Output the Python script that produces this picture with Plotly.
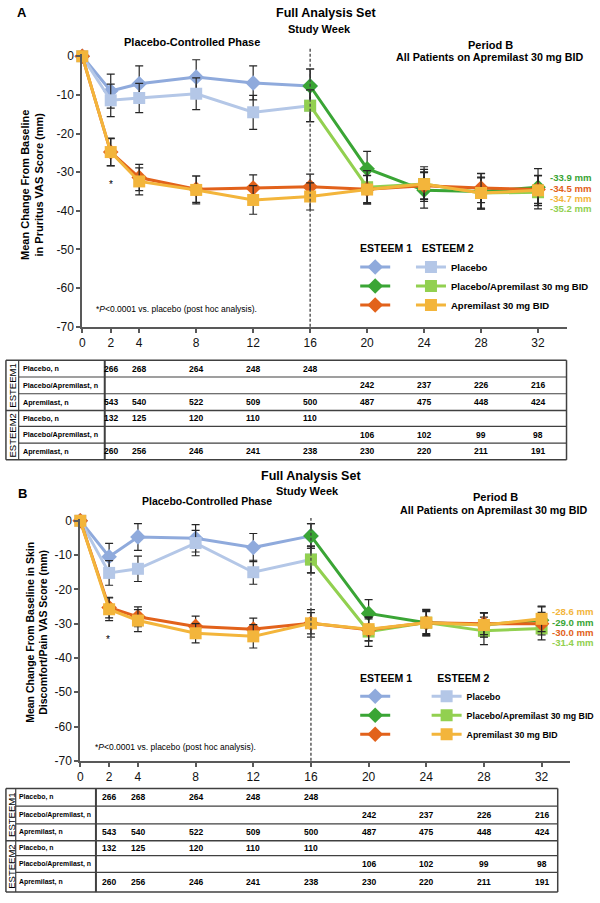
import plotly.graph_objects as go

# ---------------- data ----------------
WEEKS_PC = [0, 2, 4, 8, 12, 16]
WEEKS_B = [16, 20, 24, 28, 32]
WEEKS_ALL = [0, 2, 4, 8, 12, 16, 20, 24, 28, 32]
PHASE_SPLIT = 16
X_TICKS = [0, 2, 4, 8, 12, 16, 20, 24, 28, 32]
Y_TICKS = [0, -10, -20, -30, -40, -50, -60, -70]

# Panel A: Pruritus VAS
A_E1_PBO = [0, -9.0, -7.1, -5.4, -6.9, -7.7]
A_E1_PBO_ERR = [0, 4.4, 4.6, 4.5, 4.4, 4.4]
A_E2_PBO = [0, -11.4, -10.8, -9.7, -14.5, -12.8]
A_E2_PBO_ERR = [0, 4.2, 3.8, 4.1, 4.4, 4.1]
A_E1_PA = [-7.7, -29.1, -34.7, -35.0, -33.9]
A_E1_PA_ERR = [4.4, 4.5, 4.6, 4.6, 4.8]
A_E2_PA = [-12.8, -33.9, -33.1, -35.4, -35.2]
A_E2_PA_ERR = [4.1, 4.3, 4.5, 4.1, 4.3]
A_E1_APR = [0, -24.8, -31.4, -34.4, -34.1, -33.8, -34.4, -33.5, -34.1, -34.5]
A_E1_APR_ERR = [0, 3.5, 3.4, 3.4, 3.4, 3.3, 3.5, 3.6, 3.8, 3.6]
A_E2_APR = [0, -24.8, -32.4, -34.6, -37.2, -36.3, -34.5, -33.1, -35.4, -34.7]
A_E2_APR_ERR = [0, 3.6, 3.5, 3.6, 3.7, 3.5, 3.7, 3.8, 3.9, 3.9]
A_END_LABELS = ["-33.9 mm", "-34.5 mm", "-34.7 mm", "-35.2 mm"]

# Panel B: Skin Discomfort/Pain VAS
B_E1_PBO = [0, -10.5, -4.7, -5.1, -7.8, -4.4]
B_E1_PBO_ERR = [0, 3.9, 3.9, 4.0, 4.1, 3.6]
B_E2_PBO = [0, -15.2, -14.0, -6.5, -15.0, -11.3]
B_E2_PBO_ERR = [0, 3.6, 3.7, 3.7, 3.5, 3.9]
B_E1_PA = [-4.4, -27.0, -29.7, -30.3, -29.0]
B_E1_PA_ERR = [3.6, 4.0, 3.9, 3.5, 3.9]
B_E2_PA = [-11.3, -32.3, -29.7, -32.1, -31.4]
B_E2_PA_ERR = [3.9, 4.3, 3.8, 4.0, 3.3]
B_E1_APR = [0, -25.3, -28.0, -30.8, -31.6, -29.9, -31.8, -29.7, -30.0, -30.0]
B_E1_APR_ERR = [0, 3.0, 2.9, 3.0, 3.2, 3.1, 3.2, 3.2, 3.2, 3.3]
B_E2_APR = [0, -25.8, -29.1, -32.8, -33.7, -29.9, -31.6, -29.7, -30.4, -28.6]
B_E2_APR_ERR = [0, 3.3, 3.2, 2.8, 3.4, 4.0, 3.4, 3.5, 3.5, 3.7]
B_END_LABELS = ["-28.6 mm", "-29.0 mm", "-30.0 mm", "-31.4 mm"]

# Patient counts (same in both panels)
N_WEEKS = [2, 4, 8, 12, 16, 20, 24, 28, 32]
N_E1_PBO = [266, 268, 264, 248, 248, None, None, None, None]
N_E1_PA = [None, None, None, None, None, 242, 237, 226, 216]
N_E1_APR = [543, 540, 522, 509, 500, 487, 475, 448, 424]
N_E2_PBO = [132, 125, 120, 110, 110, None, None, None, None]
N_E2_PA = [None, None, None, None, None, 106, 102, 99, 98]
N_E2_APR = [260, 256, 246, 241, 238, 230, 220, 211, 191]
ROW_LABELS = ["Placebo, n", "Placebo/Apremilast, n", "Apremilast, n"] * 2
STUDY_LABELS = ["ESTEEM1", "ESTEEM2"]
LEGEND_NAMES = ["Placebo", "Placebo/Apremilast 30 mg BID", "Apremilast 30 mg BID"]

# ---------------- style ----------------
W, H = 600, 903
FONT = "Liberation Sans, Arial, sans-serif"
C_E1_PBO = "#8FAADC"
C_E2_PBO = "#B4C7E7"
C_E1_PA = "#3AA535"
C_E2_PA = "#92D050"
C_E1_APR = "#E2621B"
C_E2_APR = "#F3B53B"
AX = "#595959"
ERRC = "#262626"


def X(p):
    return p / W


def Y(p):
    return 1 - p / H


fig = go.Figure()


def add(xs, ys, err, color, symbol, size, xa, ya, legend, name, rank):
    fig.add_trace(go.Scatter(
        x=xs, y=ys, mode="lines+markers", name=name,
        line=dict(color=color, width=3),
        marker=dict(symbol=symbol, size=size, color=color),
        error_y=dict(type="data", array=err, color=ERRC, thickness=1.2, width=4),
        xaxis=xa, yaxis=ya, legend=legend, legendrank=rank, cliponaxis=False,
        hoverinfo="x+y"))


def panel(xa, ya, lg1, lg2, d):
    (e1p, e1pe, e2p, e2pe, e1pa, e1pae, e2pa, e2pae, e1a, e1ae, e2a, e2ae) = d
    add(WEEKS_PC, e1p, e1pe, C_E1_PBO, "diamond", 12, xa, ya, lg1, " ", 1)
    add(WEEKS_PC, e2p, e2pe, C_E2_PBO, "square", 12, xa, ya, lg2, "<b>%s</b>" % LEGEND_NAMES[0], 1)
    add(WEEKS_B, e1pa, e1pae, C_E1_PA, "diamond", 12, xa, ya, lg1, "  ", 2)
    add(WEEKS_B, e2pa, e2pae, C_E2_PA, "square", 12, xa, ya, lg2, "<b>%s</b>" % LEGEND_NAMES[1], 2)
    add(WEEKS_ALL, e1a, e1ae, C_E1_APR, "diamond", 12, xa, ya, lg1, "   ", 3)
    add(WEEKS_ALL, e2a, e2ae, C_E2_APR, "square", 12, xa, ya, lg2, "<b>%s</b>" % LEGEND_NAMES[2], 3)


panel("x", "y", "legend", "legend2",
      (A_E1_PBO, A_E1_PBO_ERR, A_E2_PBO, A_E2_PBO_ERR, A_E1_PA, A_E1_PA_ERR,
       A_E2_PA, A_E2_PA_ERR, A_E1_APR, A_E1_APR_ERR, A_E2_APR, A_E2_APR_ERR))
panel("x2", "y2", "legend3", "legend4",
      (B_E1_PBO, B_E1_PBO_ERR, B_E2_PBO, B_E2_PBO_ERR, B_E1_PA, B_E1_PA_ERR,
       B_E2_PA, B_E2_PA_ERR, B_E1_APR, B_E1_APR_ERR, B_E2_APR, B_E2_APR_ERR))


def xaxis(dom, anchor):
    return dict(domain=dom, range=[0, 34], tickvals=X_TICKS, ticktext=[str(t) for t in X_TICKS],
                showline=True, linecolor=AX, linewidth=2, ticks="outside", ticklen=4,
                tickcolor=AX, tickwidth=1.5, showgrid=False, zeroline=False, anchor=anchor,
                tickfont=dict(family=FONT, size=12, color="#111"), fixedrange=True)


def yaxis(dom, anchor):
    return dict(domain=dom, range=[-70, 0.5], tickvals=Y_TICKS, ticktext=[str(t) for t in Y_TICKS],
                showline=True, linecolor=AX, linewidth=2, ticks="outside", ticklen=4,
                tickcolor=AX, tickwidth=1.5, showgrid=False, zeroline=False, anchor=anchor,
                tickfont=dict(family=FONT, size=12, color="#111"), fixedrange=True)


def legend(x, y, title, tsize, isize):
    return dict(title=dict(text="<b>%s</b>" % title, side="top",
                           font=dict(family=FONT, size=tsize, color="black")),
                x=X(x), y=Y(y), xanchor="left", yanchor="top", bgcolor="rgba(0,0,0,0)",
                font=dict(family=FONT, size=isize, color="black"), itemwidth=30,
                tracegroupgap=0, itemclick=False, itemdoubleclick=False)


ann = []
shapes = []


def text(x, y, t, size, bold=True, color="black", xanchor="center", family=FONT, angle=0,
         xref="paper", yref="paper"):
    ann.append(dict(x=x if xref != "paper" else X(x), y=y if yref != "paper" else Y(y),
                    xref=xref, yref=yref, text=("<b>%s</b>" % t) if bold else t,
                    showarrow=False, xanchor=xanchor, yanchor="middle", textangle=angle,
                    font=dict(family=family, size=size, color=color)))


def line(x0, y0, x1, y1, w=1.2, color="#404040", dash=None, xref="paper"):
    shapes.append(dict(type="line", xref=xref, yref="paper",
                       x0=x0 if xref != "paper" else X(x0), x1=x1 if xref != "paper" else X(x1),
                       y0=Y(y0), y1=Y(y1),
                       line=dict(color=color, width=w, dash=dash)))


def table(xref, left, sep1, sep2, right, rows, lab_x, study_x, lsize, nsize):
    counts = [N_E1_PBO, N_E1_PA, N_E1_APR, N_E2_PBO, N_E2_PA, N_E2_APR]
    line(left, rows[0], right, rows[0], 1.5)
    line(left, rows[-1], right, rows[-1], 1.5)
    line(left, rows[3], right, rows[3], 1.5)
    for i in (1, 2, 4, 5):
        line(sep1, rows[i], right, rows[i], 1.2)
    line(left, rows[0], left, rows[-1], 1.5)
    line(right, rows[0], right, rows[-1], 1.5)
    line(sep1, rows[0], sep1, rows[-1], 1.2)
    line(sep2, rows[0], sep2, rows[-1], 2)
    for i in range(6):
        yc = (rows[i] + rows[i + 1]) / 2
        text(lab_x, yc, ROW_LABELS[i], lsize, True, xanchor="left")
        for wk, n in zip(N_WEEKS, counts[i]):
            if n is not None:
                text(wk, yc, str(n), nsize, True, xref=xref)
    for k in range(2):
        yc = (rows[3 * k] + rows[3 * k + 3]) / 2
        text(study_x, yc, STUDY_LABELS[k], 9.5, False, angle=-90)


# ---- Panel A text ----
text(19, 8, "A", 13)
text(330, 8, "Full Analysis Set", 12.5)
text(323, 24, "Study Week", 11)
text(193, 38, "Placebo-Controlled Phase", 11)
text(498, 41, "Period B", 11)
text(498, 53, "All Patients on Apremilast 30 mg BID", 10.7)
text(29, 182, "Mean Change From Baseline<br>in Pruritus VAS Score (mm)", 11, angle=-90)
text(110, 182, "*", 10, False)
text(93, 308, "*<i>P</i>&lt;0.0001 vs. placebo (post hoc analysis).", 8.5, False, xanchor="left")
for lab, yy, c in zip(A_END_LABELS, [175, 186, 196.5, 206.5], [C_E1_PA, C_E1_APR, C_E2_APR, C_E2_PA]):
    text(557, yy, lab, 9.6, True, color=c, xanchor="left")
line(PHASE_SPLIT, 326, PHASE_SPLIT, 43, 1.3, "#404040", "3px,2px", xref="x")
table("x", 3, 16, 104, 576, [360, 377, 394, 411, 427, 444, 461], 18, 9.5, 7.2, 8.5)

# ---- Panel B text ----
text(20, 495, "B", 13)
text(315, 477, "Full Analysis Set", 12.5)
text(311, 493, "Study Week", 11)
text(209, 503, "Placebo-Controlled Phase", 10.5)
text(503, 499, "Period B", 11)
text(502, 512, "All Patients on Apremilast 30 mg BID", 10.7)
text(34, 636, "Mean Change From Baseline in Skin<br>Discomfort/Pain VAS Score (mm)", 10.5, angle=-90)
text(107, 643, "*", 10, False)
text(92, 752, "*<i>P</i>&lt;0.0001 vs. placebo (post hoc analysis).", 8.5, False, xanchor="left")
for lab, yy, c in zip(B_END_LABELS, [615, 625.7, 635.7, 645.7], [C_E2_APR, C_E1_PA, C_E1_APR, C_E2_PA]):
    text(559, yy, lab, 9.6, True, color=c, xanchor="left")
line(PHASE_SPLIT, 766, PHASE_SPLIT, 520, 1.3, "#404040", "3px,2px", xref="x2")
table("x2", 3, 13, 95, 567, [794, 812, 830, 847, 862, 879, 899], 14.5, 8.5, 6.9, 8.5)

fig.update_layout(
    width=W, height=H, margin=dict(l=0, r=0, t=0, b=0),
    paper_bgcolor="white", plot_bgcolor="white",
    xaxis=xaxis([X(81), X(576)], "y"),
    yaxis=yaxis([Y(326), Y(50)], "x"),
    xaxis2=xaxis([X(79), X(580)], "y2"),
    yaxis2=yaxis([Y(766), Y(521)], "x2"),
    legend=legend(360, 237, "&nbsp;ESTEEM 1", 10.5, 9.5),
    legend2=legend(417, 237, "&nbsp;&nbsp;&nbsp;ESTEEM 2", 10.5, 9.5),
    legend3=legend(360, 672, "&nbsp;ESTEEM 1", 10.5, 8.8),
    legend4=legend(433, 672, "&nbsp;&nbsp;&nbsp;ESTEEM 2", 10.5, 8.8),
    annotations=ann, shapes=shapes, showlegend=True,
    font=dict(family=FONT),
)

fig.write_html("out.html", config={"displayModeBar": False},
               post_script="document.body.style.margin='0px';")
